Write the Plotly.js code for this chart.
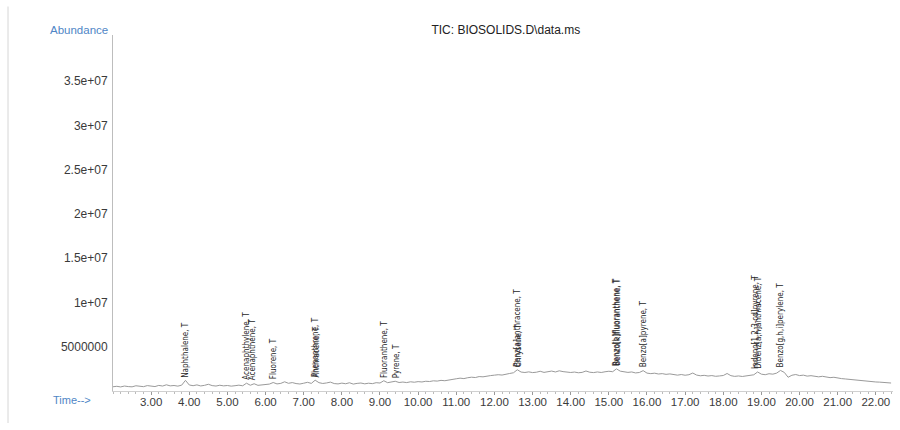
<!DOCTYPE html>
<html>
<head>
<meta charset="utf-8">
<script src="https://cdn.plot.ly/plotly-3.0.1.min.js"></script>
<style>
html,body{margin:0;padding:0;background:#fff;}
#chart{width:900px;height:430px;}
</style>
</head>
<body>
<div id="chart"></div>
<script>
// Retention time (min)
var times = [
2.0,2.1,2.2,2.3,2.4,2.5,2.6,2.7,2.8,2.9,
3.0,3.1,3.2,3.3,3.4,3.5,3.6,3.7,3.8,3.9,
4.0,4.1,4.2,4.3,4.4,4.5,4.6,4.7,4.8,4.9,
5.0,5.1,5.2,5.3,5.4,5.5,5.6,5.7,5.8,5.9,
6.0,6.1,6.2,6.3,6.4,6.5,6.6,6.7,6.8,6.9,
7.0,7.1,7.2,7.3,7.4,7.5,7.6,7.7,7.8,7.9,
8.0,8.1,8.2,8.3,8.4,8.5,8.6,8.7,8.8,8.9,
9.0,9.1,9.2,9.3,9.4,9.5,9.6,9.7,9.8,9.9,
10.0,10.1,10.2,10.3,10.4,10.5,10.6,10.7,10.8,10.9,
11.0,11.1,11.2,11.3,11.4,11.5,11.6,11.7,11.8,11.9,
12.0,12.1,12.2,12.3,12.4,12.5,12.6,12.7,12.8,12.9,
13.0,13.1,13.2,13.3,13.4,13.5,13.6,13.7,13.8,13.9,
14.0,14.1,14.2,14.3,14.4,14.5,14.6,14.7,14.8,14.9,
15.0,15.1,15.2,15.3,15.4,15.5,15.6,15.7,15.8,15.9,
16.0,16.1,16.2,16.3,16.4,16.5,16.6,16.7,16.8,16.9,
17.0,17.1,17.2,17.3,17.4,17.5,17.6,17.7,17.8,17.9,
18.0,18.1,18.2,18.3,18.4,18.5,18.6,18.7,18.8,18.9,
19.0,19.1,19.2,19.3,19.4,19.5,19.6,19.7,19.8,19.9,
20.0,20.1,20.2,20.3,20.4,20.5,20.6,20.7,20.8,20.9,
21.0,21.1,21.2,21.3,21.4,21.5,21.6,21.7,21.8,21.9,
22.0,22.1,22.2,22.3,22.4
];
// Total ion current abundance
var abundance = [
4.8e5,5.3e5,4.6e5,5.6e5,5.0e5,4.7e5,5.9e5,5.2e5,4.9e5,6.1e5,
5.4e5,5.0e5,6.3e5,5.6e5,7.0e5,5.8e5,6.2e5,5.5e5,6.6e5,12.0e5,
6.8e5,6.0e5,6.9e5,5.7e5,6.4e5,7.6e5,6.1e5,5.6e5,6.5e5,5.8e5,
6.2e5,5.5e5,6.0e5,6.6e5,5.9e5,8.8e5,6.5e5,8.2e5,6.4e5,6.9e5,
7.2e5,7.8e5,9.6e5,8.0e5,8.6e5,10.4e5,8.7e5,9.5e5,8.4e5,7.9e5,
8.8e5,9.8e5,8.6e5,12.2e5,9.4e5,8.5e5,9.1e5,10.0e5,8.4e5,8.0e5,
8.9e5,8.2e5,9.3e5,7.8e5,8.6e5,9.0e5,8.1e5,8.8e5,8.3e5,9.4e5,
9.0e5,11.6e5,9.4e5,9.8e5,11.0e5,9.6e5,10.1e5,9.5e5,10.4e5,9.9e5,
10.6e5,10.2e5,11.0e5,10.7e5,11.5e5,11.2e5,12.0e5,11.6e5,12.6e5,13.3e5,
13.8e5,14.5e5,14.0e5,15.0e5,15.6e5,15.2e5,16.3e5,16.0e5,17.0e5,17.4e5,
17.9e5,18.4e5,18.0e5,19.3e5,19.8e5,20.6e5,24.0e5,21.4e5,20.9e5,21.6e5,
20.8e5,21.2e5,22.3e5,21.0e5,21.7e5,22.5e5,21.5e5,22.8e5,21.9e5,21.3e5,
20.9e5,21.4e5,20.6e5,21.0e5,22.6e5,21.2e5,20.8e5,21.5e5,20.9e5,21.7e5,
22.3e5,21.8e5,25.0e5,22.4e5,21.6e5,21.0e5,21.5e5,20.4e5,20.9e5,23.0e5,
20.2e5,19.6e5,20.1e5,19.2e5,19.6e5,18.8e5,19.3e5,18.5e5,17.9e5,18.6e5,
17.8e5,18.4e5,20.3e5,18.0e5,17.2e5,17.7e5,16.9e5,17.4e5,16.6e5,17.0e5,
17.5e5,19.8e5,17.3e5,16.5e5,17.0e5,16.4e5,16.9e5,17.6e5,18.3e5,21.5e5,
19.0e5,18.4e5,19.5e5,19.0e5,20.2e5,23.2e5,21.0e5,15.5e5,17.8e5,18.6e5,
17.4e5,17.9e5,16.8e5,17.3e5,16.5e5,16.0e5,16.6e5,15.6e5,15.1e5,15.5e5,
14.4e5,14.0e5,13.6e5,13.1e5,12.6e5,12.2e5,11.8e5,11.3e5,11.0e5,10.6e5,
10.2e5,10.0e5,9.6e5,9.3e5,9.0e5
];
// Identified compounds (target list), retention times and apex abundance
var compounds = [
"Naphthalene, T","Acenaphthylene, T","Acenaphthene, T","Fluorene, T",
"Phenanthrene, T","Anthracene, T","Fluoranthene, T","Pyrene, T",
"Benz[a]anthracene, T","Chrysene, T","Benzo[b]fluoranthene, T","Benzo[k]fluoranthene, T",
"Benzo[a]pyrene, T","Indeno[1,2,3-cd]pyrene, T","Dibenz[a,h]anthracene, T","Benzo[g,h,i]perylene, T"
];
var retTimes = [3.9,5.5,5.66,6.2,7.3,7.34,9.1,9.42,12.6,12.63,15.2,15.24,15.9,18.86,18.93,19.5];
var apexAbundance = [12.0e5,8.8e5,8.2e5,9.6e5,12.2e5,12.2e5,11.6e5,11.0e5,24.0e5,24.0e5,25.0e5,25.0e5,23.0e5,21.5e5,21.5e5,23.2e5];

var yTickVals = [5e6,1e7,1.5e7,2e7,2.5e7,3e7,3.5e7];
var yTickText = ["5000000","1e+07","1.5e+07","2e+07","2.5e+07","3e+07","3.5e+07"];
var xTickVals = [3,4,5,6,7,8,9,10,11,12,13,14,15,16,17,18,19,20,21,22];
var xTickText = ["3.00","4.00","5.00","6.00","7.00","8.00","9.00","10.00","11.00","12.00","13.00","14.00","15.00","16.00","17.00","18.00","19.00","20.00","21.00","22.00"];

var trace = {
  x: times, y: abundance, type: 'scatter', mode: 'lines',
  line: {color: '#9a9a9a', width: 1}, hoverinfo: 'skip'
};

var labelFont = {family: '"Liberation Sans Narrow", "DejaVu Sans Condensed", Arial, sans-serif', size: 8, color: '#1e1e1e'};
var annotations = compounds.map(function(name, i){
  return {
    x: retTimes[i], y: apexAbundance[i], xref: 'x', yref: 'y',
    text: name, showarrow: false, textangle: -90,
    xanchor: 'center', yanchor: 'bottom', yshift: 1,
    font: labelFont
  };
});
annotations.push({
  x: -0.004, y: 1.0, xref: 'paper', yref: 'paper', xanchor: 'right', yanchor: 'middle', yshift: 5,
  text: 'Abundance', showarrow: false,
  font: {family: 'Arial, "Liberation Sans", sans-serif', size: 11.5, color: '#4f86c6'}
});
annotations.push({
  x: -0.053, y: 0, xref: 'paper', yref: 'paper', xanchor: 'center', yanchor: 'middle', yshift: -9,
  text: 'Time-->', showarrow: false,
  font: {family: 'Arial, "Liberation Sans", sans-serif', size: 11, color: '#4f86c6'}
});

var layout = {
  width: 900, height: 430,
  margin: {l: 113, r: 7, t: 35, b: 39},
  paper_bgcolor: '#ffffff', plot_bgcolor: '#ffffff',
  showlegend: false,
  title: {
    text: 'TIC: BIOSOLIDS.D\\data.ms',
    x: 0.562, xanchor: 'center', y: 0.93, yanchor: 'middle', xref: 'container', yref: 'container',
    font: {family: 'Arial, "Liberation Sans", sans-serif', size: 12, color: '#222'}
  },
  xaxis: {
    range: [2.0, 22.45], showgrid: false, zeroline: false,
    showline: true, linecolor: '#d0d0d0', linewidth: 1,
    tickmode: 'array', tickvals: xTickVals, ticktext: xTickText,
    ticks: 'outside', ticklen: 3, tickcolor: '#999', ticklabelstandoff: -3,
    minor: {dtick: 0.2, tick0: 0, ticks: 'outside', ticklen: 2, tickcolor: '#bbb', showgrid: false},
    tickfont: {family: 'Arial, "Liberation Sans", sans-serif', size: 11.5, color: '#3a3a3a'}
  },
  yaxis: {
    range: [0, 4.02e7], showgrid: false, zeroline: false,
    showline: true, linecolor: '#bdbdbd', linewidth: 1,
    tickmode: 'array', tickvals: yTickVals, ticktext: yTickText,
    ticks: '', ticklabelstandoff: 2,
    tickfont: {family: 'Arial, "Liberation Sans", sans-serif', size: 12, color: '#3a3a3a'}
  },
  shapes: [
    {type: 'line', xref: 'paper', yref: 'paper', x0: -0.1346, x1: -0.1346, y0: -0.09, y1: 1.08,
     line: {color: '#e4e4e4', width: 1.5}}
  ],
  annotations: annotations
};

Plotly.newPlot('chart', [trace], layout, {staticPlot: true, displayModeBar: false});
</script>
</body>
</html>
